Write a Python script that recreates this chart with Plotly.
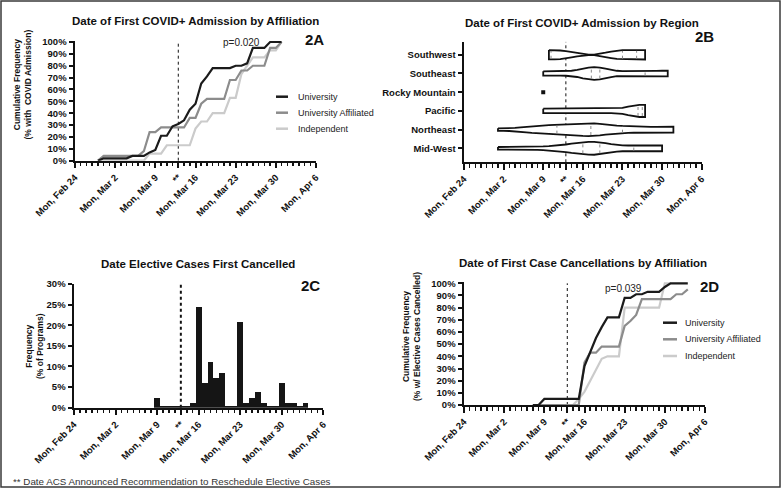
import numpy as np
import pandas as pd
import plotly.graph_objects as go

W, H = 781, 488
FONT = "Liberation Sans, Arial, sans-serif"

# ---------------- shared x-axis ticks ----------------
tick_dates = ["2020-02-24", "2020-03-02", "2020-03-09", "2020-03-13",
              "2020-03-16", "2020-03-23", "2020-03-30", "2020-04-06"]
tick_labels = ["Mon, Feb 24", "Mon, Mar 2", "Mon, Mar 9", "**",
               "Mon, Mar 16", "Mon, Mar 23", "Mon, Mar 30", "Mon, Apr 6"]
axis_start, axis_end = "2020-02-24", "2020-04-06"
acs_date = "2020-03-13"

groups = ["University", "University Affiliated", "Independent"]
group_colors = ["#1b1b1b", "#8c8c8c", "#cbcbcb"]

# ---------------- 2A: cumulative % with first COVID+ admission ----------------
adm_start = "2020-02-28"
adm_university = [0, 2, 2, 2, 2, 2, 4, 4, 4, 7, 9, 21, 21, 29, 31, 34, 43, 48, 65, 71,
                  78, 78, 78, 78, 80, 80, 82, 95, 95, 95, 100, 100, 100]
adm_affiliated = [0, 4, 4, 4, 4, 4, 4, 4, 8, 24, 24, 28, 28, 28, 28, 28, 36, 36, 48, 52,
                  52, 52, 52, 68, 68, 76, 76, 80, 80, 80, 95, 95, 100]
adm_independent = [0, 0, 0, 0, 0, 0, 0, 0, 0, 6, 6, 6, 13, 13, 13, 13, 13, 27, 33, 33,
                   40, 40, 40, 53, 53, 73, 80, 87, 87, 87, 93, 93, 100]
pct_ticks_100 = [0, 10, 20, 30, 40, 50, 60, 70, 80, 90, 100]

# ---------------- 2B: violin profiles by region (relative half-width per day) ----------------
regions = ["Mid-West", "Northeast", "Pacific", "Rocky Mountain", "Southeast", "Southwest"]
midwest_start = "2020-03-01"
midwest_width = [0.20, 0.20, 0.20, 0.20, 0.20, 0.22, 0.23, 0.26, 0.29, 0.34, 0.40, 0.48, 0.58,
                 0.71, 0.83, 0.92, 0.98, 1.00, 0.94, 0.80, 0.65, 0.52, 0.46, 0.43, 0.42, 0.42,
                 0.42, 0.43, 0.45, 0.46]
midwest_quartiles = ["2020-03-16", "2020-03-19", "2020-03-25"]
northeast_start = "2020-03-01"
northeast_width = [0.20, 0.20, 0.22, 0.25, 0.34, 0.43, 0.51, 0.58, 0.65, 0.69, 0.72, 0.75, 0.82,
                   0.88, 0.94, 0.98, 1.00, 0.97, 0.89, 0.78, 0.69, 0.62, 0.57, 0.52, 0.49, 0.46,
                   0.45, 0.43, 0.43, 0.43, 0.45, 0.46]
northeast_quartiles = ["2020-03-11 10:00", "2020-03-17 10:00", "2020-03-23"]
pacific_start = "2020-03-09"
pacific_width = [0.34, 0.34, 0.34, 0.34, 0.34, 0.34, 0.34, 0.34, 0.34, 0.34, 0.34, 0.34, 0.34,
                 0.36, 0.45, 0.65, 0.85, 0.94, 0.94]
pacific_quartiles = ["2020-03-25 18:00", "2020-03-26 12:00"]
rocky_date = "2020-03-09"
southeast_start = "2020-03-09"
southeast_width = [0.34, 0.34, 0.34, 0.34, 0.35, 0.42, 0.54, 0.74, 0.89, 0.97, 0.92, 0.75, 0.55,
                   0.42, 0.35, 0.34, 0.34, 0.35, 0.37, 0.38, 0.40, 0.42, 0.43]
southeast_quartiles = ["2020-03-17 12:00", "2020-03-19", "2020-03-27"]
southwest_start = "2020-03-10"
southwest_width = [0.72, 0.71, 0.66, 0.55, 0.40, 0.25, 0.12, 0.04, 0.04, 0.15, 0.32, 0.50, 0.64,
                   0.71, 0.72, 0.72, 0.72, 0.72]
southwest_quartiles = ["2020-03-10 09:00", "2020-03-23", "2020-03-25 12:00"]

# ---------------- 2C: % of programs first cancelling elective cases ----------------
elective_start = "2020-03-09"
elective_pct = [2.4, 0.5, 0.5, 0.5, 0.5, 0.5, 1.2, 24.4, 6.1, 11.0, 7.3, 8.5, 0.5, 0.5, 20.7,
                1.2, 2.4, 3.7, 1.2, 0.5, 0.5, 6.1, 1.2, 1.2, 0.5, 1.2]
pct_ticks_30 = [0, 5, 10, 15, 20, 25, 30]

# ---------------- 2D: cumulative % with elective cases cancelled ----------------
cancel_start = "2020-03-07"
cancel_university = [0, 0, 5, 5, 5, 5, 5, 5, 5, 32, 44, 55, 64, 72, 72, 72, 88, 88, 91, 91,
                     93, 93, 93, 97, 100, 100, 100, 100]
cancel_affiliated = [0, 0, 0, 0, 0, 0, 0, 0, 0, 35, 43, 43, 48, 48, 48, 48, 65, 69, 74, 87,
                     87, 87, 87, 87, 87, 91, 91, 95]
cancel_independent = [0, 0, 0, 0, 0, 0, 0, 0, 5, 11, 20, 29, 38, 40, 40, 40, 80, 80, 80, 80,
                      80, 80, 80, 100, 100]

# ---------------- helpers ----------------
def fx(px):
    return px / W


def fy(py):
    return 1 - py / H


def days(start, n):
    return pd.date_range(start, periods=n, freq="D")


fig = go.Figure()

# ---- 2A lines ----
for vals, name, col in reversed(list(zip([adm_university, adm_affiliated, adm_independent], groups, group_colors))):
    fig.add_trace(go.Scatter(x=days(adm_start, len(vals)), y=vals, mode="lines", name=name,
                             line=dict(color=col, width=2.2), xaxis="x", yaxis="y", hoverinfo="skip"))

# ---- 2B violins ----
VSCALE = 0.347
violin_sets = [(midwest_start, midwest_width, midwest_quartiles),
               (northeast_start, northeast_width, northeast_quartiles),
               (pacific_start, pacific_width, pacific_quartiles),
               None,
               (southeast_start, southeast_width, southeast_quartiles),
               (southwest_start, southwest_width, southwest_quartiles)]
for i, vs in enumerate(violin_sets):
    if vs is None:
        fig.add_trace(go.Scatter(x=[pd.Timestamp(rocky_date)], y=[i], mode="markers",
                                 marker=dict(symbol="square", size=4, color="#111"),
                                 xaxis="x2", yaxis="y2", hoverinfo="skip"))
        continue
    start, widths, quarts = vs
    d = days(start, len(widths))
    w = np.array(widths) * VSCALE
    xs = list(d) + list(d[::-1]) + [d[0]]
    ys = list(i + w) + list((i - w)[::-1]) + [i + w[0]]
    fig.add_trace(go.Scatter(x=xs, y=ys, mode="lines", fill="toself", fillcolor="white",
                             line=dict(color="#111", width=1.8), xaxis="x2", yaxis="y2",
                             hoverinfo="skip"))
    dnum = (d - d[0]).total_seconds().values / 86400
    qx, qy = [], []
    for q in quarts:
        qt = pd.Timestamp(q)
        qn = (qt - d[0]).total_seconds() / 86400
        hw = np.interp(qn, dnum, w) * 0.85
        qx += [qt, qt, None]
        qy += [i - hw, i + hw, None]
    fig.add_trace(go.Scatter(x=qx, y=qy, mode="lines", line=dict(color="#8a8a8a", width=1, dash="dot"),
                             xaxis="x2", yaxis="y2", hoverinfo="skip"))

# ---- 2C bars ----
fig.add_trace(go.Bar(x=days(elective_start, len(elective_pct)), y=elective_pct,
                     width=86400000, marker=dict(color="#151515", line=dict(width=0)),
                     xaxis="x3", yaxis="y3", hoverinfo="skip"))

# ---- 2D lines ----
for vals, name, col in reversed(list(zip([cancel_university, cancel_affiliated, cancel_independent], groups, group_colors))):
    fig.add_trace(go.Scatter(x=days(cancel_start, len(vals)), y=vals, mode="lines", name=name,
                             line=dict(color=col, width=2.2), xaxis="x4", yaxis="y4", hoverinfo="skip"))

# ---------------- axes ----------------
tickfont = dict(family=FONT, size=9.5, color="#111", weight="bold")


def date_axis(px0, px1, anchor):
    return dict(domain=[fx(px0), fx(px1)], anchor=anchor, type="date", automargin=False,
                range=[axis_start, axis_end], tickmode="array", tickvals=tick_dates,
                ticktext=tick_labels, tickangle=-45, ticks="outside", ticklen=5.5, tickwidth=2,
                tickcolor="#111", showline=True, linewidth=2, linecolor="#111", showgrid=False,
                zeroline=False, tickfont=tickfont,
                minor=dict(dtick=86400000, tick0=axis_start, ticks="outside", ticklen=3.5,
                           tickwidth=1.5, tickcolor="#111", showgrid=False))


def pct_axis(py0, py1, anchor, rng, vals):
    return dict(domain=[fy(py0), fy(py1)], anchor=anchor, range=rng, tickmode="array",
                automargin=False,
                tickvals=vals, ticktext=[f"{v}%" for v in vals], ticks="outside", ticklen=4.5,
                tickwidth=2, tickcolor="#111", showline=True, linewidth=2, linecolor="#111",
                showgrid=False, zeroline=False, tickfont=tickfont)


layout_axes = dict(
    xaxis=date_axis(75, 316, "y"),
    yaxis=pct_axis(160.7, 40.8, "x", [0, 101], pct_ticks_100),
    xaxis2=date_axis(464, 701.7, "y2"),
    yaxis2=dict(domain=[fy(162.3), fy(41.7)], anchor="x2", range=[-0.75, 5.7], tickmode="array",
                automargin=False,
                tickvals=list(range(len(regions))), ticktext=regions, ticks="outside", ticklen=4.5,
                tickwidth=2, tickcolor="#111", showline=True, linewidth=2, linecolor="#111",
                showgrid=False, zeroline=False, tickfont=tickfont),
    xaxis3=date_axis(74, 323.3, "y3"),
    yaxis3=pct_axis(407.7, 284, "x3", [0, 30], pct_ticks_30),
    xaxis4=date_axis(464, 705, "y4"),
    yaxis4=pct_axis(405, 282.1, "x4", [0, 101], pct_ticks_100),
)

# ---------------- ACS dotted lines ----------------
shapes = []
for xr, yr, ytop, wd in [("x", "y", 100, 1), ("x2", "y2", 5.7, 1), ("x3", "y3", 30, 2), ("x4", "y4", 100, 1)]:
    y0 = -0.75 if yr == "y2" else 0
    shapes.append(dict(type="line", xref=xr, yref=yr, x0=acs_date, x1=acs_date, y0=y0, y1=ytop,
                       line=dict(color="#111", width=wd, dash="dot"), layer="below"))

# ---------------- manual legends ----------------
annotations = []
for (lx0, lx1, tx, rows) in [(276, 288, 296, [96.7, 112.7, 128.7]), (663, 677, 683, [322.7, 339.3, 356])]:
    for name, col, ry in zip(groups, group_colors, rows):
        shapes.append(dict(type="line", xref="paper", yref="paper", x0=fx(lx0), x1=fx(lx1),
                           y0=fy(ry), y1=fy(ry), line=dict(color=col, width=2.5)))
        annotations.append(dict(x=fx(tx), y=fy(ry), xref="paper", yref="paper", text=name,
                                showarrow=False, xanchor="left", yanchor="middle",
                                font=dict(family=FONT, size=9, color="#222")))

# outer frame
shapes.append(dict(type="rect", xref="paper", yref="paper", x0=fx(1), x1=fx(780), y0=fy(487), y1=fy(1),
                   line=dict(color="#3a3a3a", width=1.5)))


def txt(x, y, s, size, bold=False, angle=0, anchor="center", color="#111", family=FONT):
    annotations.append(dict(x=fx(x), y=fy(y), xref="paper", yref="paper", text=s, showarrow=False,
                            xanchor=anchor, yanchor="middle", textangle=angle,
                            font=dict(family=family, size=size, color=color,
                                      weight="bold" if bold else "normal")))


# titles
txt(195.7, 20.7, "Date of First COVID+ Admission by Affiliation", 11.5, bold=True)
txt(582, 22.7, "Date of First COVID+ Admission by Region", 11.5, bold=True)
txt(198, 264, "Date Elective Cases First Cancelled", 11.5, bold=True)
txt(583, 262.7, "Date of First Case Cancellations by Affiliation", 11.5, bold=True)
# panel labels
txt(314, 39.5, "2A", 15, bold=True)
txt(704, 36.7, "2B", 15, bold=True)
txt(310.5, 285, "2C", 15, bold=True)
txt(709, 286, "2D", 15, bold=True)
# p-values
txt(241.7, 42.7, "p=0.020", 10, color="#222")
txt(623.5, 288.3, "p=0.039", 10, color="#222")
# y-axis titles
txt(21.5, 85, "Cumulative Frequency<br>(% with  COVID Admission)", 8.5, bold=True, angle=-90)
txt(34, 346, "Frequency<br>(% of Programs)", 8.5, bold=True, angle=-90)
txt(411, 337, "Cumulative Frequency<br>(% w/ Elective Cases Cancelled)", 8.5, bold=True, angle=-90)
# footnote
txt(11, 481.5, "** Date ACS Announced Recommendation to Reschedule Elective Cases", 9.8,
    anchor="left", color="#333")

fig.update_layout(width=W, height=H, margin=dict(l=0, r=0, t=0, b=0, autoexpand=False),
                  plot_bgcolor="white", paper_bgcolor="white", showlegend=False,
                  bargap=0, shapes=shapes, annotations=annotations, **layout_axes)

fig.write_html("out.html", config={"displayModeBar": False, "staticPlot": True},
               post_script="document.body.style.margin='0';document.body.style.overflow='hidden';")
